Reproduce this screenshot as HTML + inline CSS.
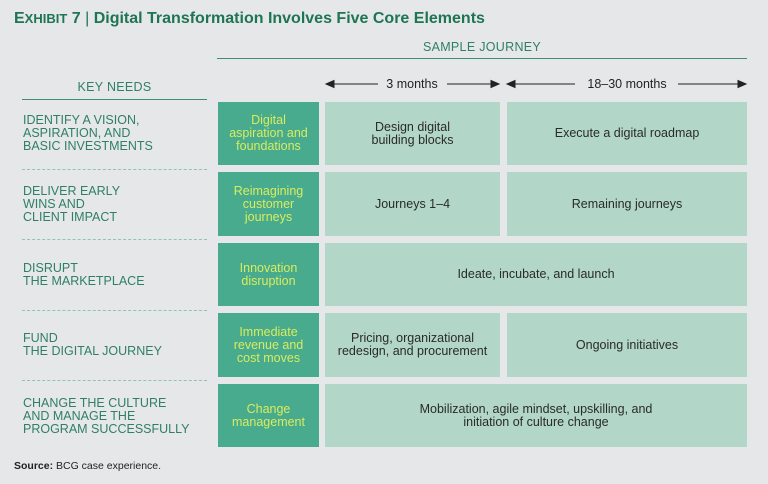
<!DOCTYPE html><html><head><style>
body{margin:0;width:768px;height:484px;background:#e6e7e9;position:relative;font-family:"Liberation Sans",sans-serif;overflow:hidden}
.a{position:absolute}
.t{left:14px;top:10px;font-size:16px;font-weight:bold;color:#1d7553}
.need{left:23px;font-size:12.5px;color:#2f7f66;line-height:13px;letter-spacing:0}
.dk{left:218px;width:101px;background:#48ab8d;color:#d9ec5e;font-size:12.5px;line-height:13px;text-align:center;display:flex;align-items:center;justify-content:center}
.lt{background:#b2d7c9;color:#2a2a2a;font-size:12.5px;line-height:13px;text-align:center;display:flex;align-items:center;justify-content:center}
.dash{left:22px;width:185px;border-top:1px dashed #8fc4b2}
</style></head><body>
<div class="a t"><span>E</span><span style="font-size:13px">XHIBIT</span> 7 <span style="font-weight:normal">|</span> Digital Transformation Involves Five Core Elements</div>
<div class="a" style="left:217px;width:530px;top:40px;text-align:center;font-size:12.5px;color:#2f7f66;letter-spacing:0.3px">SAMPLE JOURNEY</div>
<div class="a" style="left:217px;width:530px;top:58px;border-top:1.5px solid #3f8e74"></div>
<div class="a" style="left:22px;width:185px;top:80px;text-align:center;font-size:12.5px;color:#2f7f66;letter-spacing:0.3px">KEY NEEDS</div>
<div class="a" style="left:22px;width:185px;top:99px;border-top:1.5px solid #3f8e74"></div>
<svg class="a" style="left:0;top:0" width="768" height="110">
<g stroke="#222" stroke-width="1" fill="#222">
<line x1="328" y1="84" x2="378" y2="84"/><line x1="447" y1="84" x2="497" y2="84"/>
<path d="M326 84l8-3.5v7z"/><path d="M499 84l-8-3.5v7z"/>
<line x1="509" y1="84" x2="575" y2="84"/><line x1="678" y1="84" x2="744" y2="84"/>
<path d="M507 84l8-3.5v7z"/><path d="M746 84l-8-3.5v7z"/>
</g>
<text x="412" y="88" font-size="12.5" text-anchor="middle" fill="#222" font-family="Liberation Sans">3 months</text>
<text x="627" y="88" font-size="12.5" text-anchor="middle" fill="#222" font-family="Liberation Sans">18–30 months</text>
</svg>

<div class="a need" style="top:114px">IDENTIFY A VISION,<br>ASPIRATION, AND<br>BASIC INVESTMENTS</div>
<div class="a need" style="top:185px">DELIVER EARLY<br>WINS AND<br>CLIENT IMPACT</div>
<div class="a need" style="top:262px">DISRUPT<br>THE MARKETPLACE</div>
<div class="a need" style="top:332px">FUND<br>THE DIGITAL JOURNEY</div>
<div class="a need" style="top:397px">CHANGE THE CULTURE<br>AND MANAGE THE<br>PROGRAM SUCCESSFULLY</div>
<div class="a dash" style="top:169px"></div><div class="a dash" style="top:239px"></div><div class="a dash" style="top:310px"></div><div class="a dash" style="top:380px"></div>

<div class="a dk" style="top:102px;height:63px">Digital<br>aspiration and<br>foundations</div>
<div class="a dk" style="top:172px;height:64px">Reimagining<br>customer<br>journeys</div>
<div class="a dk" style="top:243px;height:63px">Innovation<br>disruption</div>
<div class="a dk" style="top:313px;height:64px">Immediate<br>revenue and<br>cost moves</div>
<div class="a dk" style="top:384px;height:63px">Change<br>management</div>

<div class="a lt" style="left:325px;width:175px;top:102px;height:63px">Design digital<br>building blocks</div>
<div class="a lt" style="left:507px;width:240px;top:102px;height:63px">Execute a digital roadmap</div>
<div class="a lt" style="left:325px;width:175px;top:172px;height:64px">Journeys 1–4</div>
<div class="a lt" style="left:507px;width:240px;top:172px;height:64px">Remaining journeys</div>
<div class="a lt" style="left:325px;width:422px;top:243px;height:63px">Ideate, incubate, and launch</div>
<div class="a lt" style="left:325px;width:175px;top:313px;height:64px">Pricing, organizational<br>redesign, and procurement</div>
<div class="a lt" style="left:507px;width:240px;top:313px;height:64px">Ongoing initiatives</div>
<div class="a lt" style="left:325px;width:422px;top:384px;height:63px">Mobilization, agile mindset, upskilling, and<br>initiation of culture change</div>

<div class="a" style="left:14px;top:460px;font-size:10.5px;color:#222"><b>Source:</b> BCG case experience.</div>
</body></html>
